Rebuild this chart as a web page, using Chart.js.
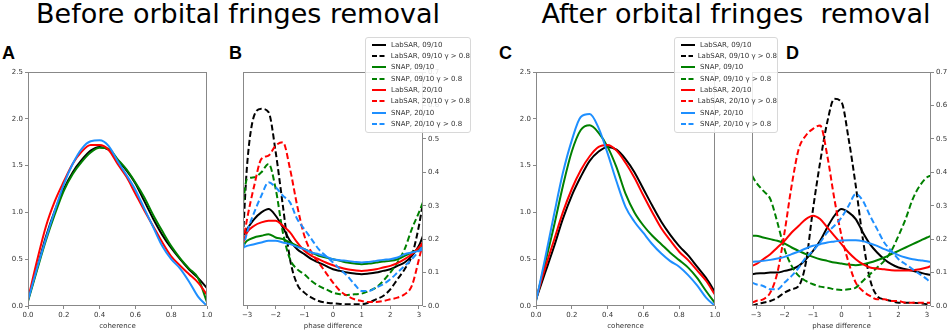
<!DOCTYPE html>
<html>
<head>
<meta charset="utf-8">
<script src="https://cdn.jsdelivr.net/npm/chart.js@4.4.0/dist/chart.umd.min.js"></script>
<style>
  body { margin:0; background:#fff; width:948px; height:330px; overflow:hidden; position:relative; font-family:"DejaVu Sans", sans-serif; }
  canvas { position:absolute; }
  .titulo { position:absolute; top:0; font-size:27px; line-height:27px; white-space:pre; color:#000; transform:translateX(-50%); }
  .letra { position:absolute; top:44px; font-family:"Liberation Sans", Arial, sans-serif; font-weight:bold; font-size:18px; line-height:18px; }
  .leyenda { position:absolute; background:rgba(255,255,255,0.85); border:1px solid #d8d8d8; border-radius:3px; font-size:7px; color:#333; box-sizing:border-box; padding:1px 0 0 6px; }
  .leyenda div { height:11.33px; display:flex; align-items:center; white-space:nowrap; }
  .leyenda svg { margin-right:5px; }
</style>
</head>
<body>
<div class="titulo" style="left:238px">Before orbital fringes removal</div>
<div class="titulo" style="left:736px">After orbital fringes  removal</div>
<div class="letra" style="left:2px">A</div>
<div class="letra" style="left:229px">B</div>
<div class="letra" style="left:499px">C</div>
<div class="letra" style="left:786px">D</div>

<canvas id="chartA" width="215" height="268" style="left:0px;top:62px"></canvas>
<canvas id="chartB" width="214" height="268" style="left:232px;top:62px"></canvas>
<canvas id="chartC" width="218" height="268" style="left:505px;top:62px"></canvas>
<canvas id="chartD" width="208" height="268" style="left:740px;top:62px"></canvas>

<div class="leyenda" id="leyendaB" style="left:365px;top:37px;width:106px;height:96px"></div>
<div class="leyenda" id="leyendaD" style="left:674px;top:37px;width:104px;height:96px"></div>

<script>
// ejes
const COHERENCE = [0, 0.05, 0.1, 0.15, 0.2, 0.25, 0.3, 0.35, 0.4, 0.45, 0.5, 0.55, 0.6, 0.65, 0.7, 0.75, 0.8, 0.85, 0.9, 0.95, 1];
const PHASE = [-3.14, -3, -2.75, -2.5, -2.25, -2, -1.75, -1.5, -1.25, -1, -0.75, -0.5, -0.25, 0, 0.25, 0.5, 0.75, 1, 1.25, 1.5, 1.75, 2, 2.25, 2.5, 2.75, 3, 3.14];
const COH_TICKS = [0, 0.2, 0.4, 0.6, 0.8, 1.0];
const PHASE_TICKS = [-3, -2, -1, 0, 1, 2, 3];
const DENS_TICKS_AC = [0, 0.5, 1.0, 1.5, 2.0, 2.5];
const DENS_TICKS_BD = [0, 0.1, 0.2, 0.3, 0.4, 0.5, 0.6, 0.7];
const LABELS = ['LabSAR, 09/10', 'LabSAR, 09/10 \u03b3 > 0.8', 'SNAP, 09/10', 'SNAP, 09/10 \u03b3 > 0.8',
                'LabSAR, 20/10', 'LabSAR, 20/10 \u03b3 > 0.8', 'SNAP, 20/10', 'SNAP, 20/10 \u03b3 > 0.8'];

// A: coherencia antes
const A_LAB_0910  = [0.07, 0.40, 0.74, 1.02, 1.25, 1.43, 1.56, 1.66, 1.70, 1.67, 1.56, 1.45, 1.31, 1.12, 0.93, 0.76, 0.62, 0.50, 0.39, 0.30, 0.19];
const A_SNAP_0910 = [0.05, 0.38, 0.70, 0.98, 1.23, 1.41, 1.54, 1.64, 1.69, 1.68, 1.57, 1.46, 1.32, 1.16, 0.97, 0.80, 0.64, 0.51, 0.40, 0.30, 0.04];
const A_LAB_2010  = [0.07, 0.48, 0.85, 1.12, 1.33, 1.52, 1.65, 1.72, 1.72, 1.67, 1.52, 1.38, 1.20, 1.02, 0.85, 0.68, 0.53, 0.43, 0.34, 0.25, 0.12];
const A_SNAP_2010 = [0.06, 0.40, 0.72, 1.02, 1.30, 1.52, 1.68, 1.76, 1.77, 1.71, 1.55, 1.40, 1.24, 1.04, 0.84, 0.64, 0.50, 0.40, 0.26, 0.10, 0.00];

// B: fase antes
const B_LAB_0910     = [0.21, 0.23, 0.26, 0.28, 0.29, 0.27, 0.235, 0.195, 0.17, 0.155, 0.14, 0.13, 0.12, 0.11, 0.105, 0.10, 0.097, 0.095, 0.097, 0.10, 0.105, 0.11, 0.12, 0.13, 0.15, 0.18, 0.21];
const B_LAB_0910_HI  = [0.21, 0.42, 0.57, 0.59, 0.58, 0.46, 0.30, 0.14, 0.065, 0.04, 0.025, 0.015, 0.01, 0.008, 0.006, 0.005, 0.005, 0.005, 0.01, 0.02, 0.03, 0.05, 0.08, 0.11, 0.15, 0.24, 0.31];
const B_SNAP_0910    = [0.18, 0.195, 0.205, 0.21, 0.215, 0.205, 0.20, 0.19, 0.18, 0.17, 0.16, 0.15, 0.145, 0.14, 0.135, 0.13, 0.127, 0.125, 0.127, 0.13, 0.133, 0.135, 0.14, 0.15, 0.16, 0.17, 0.18];
const B_SNAP_0910_HI = [0.31, 0.38, 0.385, 0.40, 0.425, 0.35, 0.22, 0.14, 0.11, 0.095, 0.075, 0.06, 0.05, 0.04, 0.035, 0.033, 0.035, 0.037, 0.045, 0.055, 0.075, 0.10, 0.13, 0.17, 0.23, 0.28, 0.31];
const B_LAB_2010     = [0.19, 0.22, 0.24, 0.25, 0.255, 0.255, 0.24, 0.22, 0.19, 0.165, 0.15, 0.14, 0.13, 0.122, 0.115, 0.11, 0.107, 0.105, 0.107, 0.11, 0.115, 0.12, 0.128, 0.14, 0.155, 0.175, 0.19];
const B_LAB_2010_HI  = [0.19, 0.26, 0.36, 0.44, 0.45, 0.48, 0.49, 0.41, 0.30, 0.21, 0.16, 0.13, 0.10, 0.07, 0.045, 0.03, 0.02, 0.015, 0.012, 0.012, 0.015, 0.02, 0.025, 0.035, 0.06, 0.14, 0.19];
const B_SNAP_2010    = [0.175, 0.18, 0.185, 0.19, 0.195, 0.195, 0.19, 0.185, 0.177, 0.17, 0.16, 0.155, 0.148, 0.14, 0.137, 0.135, 0.132, 0.13, 0.132, 0.135, 0.138, 0.14, 0.145, 0.155, 0.16, 0.165, 0.17];
const B_SNAP_2010_HI = [0.17, 0.22, 0.28, 0.33, 0.37, 0.355, 0.33, 0.31, 0.26, 0.23, 0.20, 0.17, 0.15, 0.13, 0.11, 0.09, 0.065, 0.045, 0.045, 0.055, 0.065, 0.08, 0.10, 0.12, 0.14, 0.165, 0.18];

// C: coherencia despues
const C_LAB_0910  = [0.07, 0.35, 0.63, 0.93, 1.18, 1.38, 1.55, 1.65, 1.70, 1.67, 1.57, 1.43, 1.25, 1.07, 0.90, 0.76, 0.64, 0.54, 0.42, 0.30, 0.15];
const C_SNAP_0910 = [0.06, 0.45, 0.85, 1.28, 1.65, 1.88, 1.93, 1.85, 1.70, 1.48, 1.20, 1.00, 0.86, 0.75, 0.66, 0.57, 0.49, 0.41, 0.30, 0.16, 0.03];
const C_LAB_2010  = [0.07, 0.40, 0.70, 1.00, 1.25, 1.45, 1.60, 1.70, 1.72, 1.66, 1.53, 1.37, 1.18, 1.00, 0.83, 0.70, 0.58, 0.49, 0.38, 0.27, 0.12];
const C_SNAP_2010 = [0.05, 0.50, 0.97, 1.42, 1.77, 2.02, 2.05, 1.90, 1.63, 1.33, 1.06, 0.90, 0.78, 0.66, 0.56, 0.48, 0.42, 0.33, 0.22, 0.09, 0.00];

// D: fase despues
const D_LAB_0910     = [0.095, 0.097, 0.098, 0.10, 0.10, 0.105, 0.11, 0.12, 0.14, 0.165, 0.195, 0.235, 0.27, 0.29, 0.28, 0.26, 0.22, 0.185, 0.16, 0.14, 0.125, 0.115, 0.11, 0.105, 0.10, 0.095, 0.093];
const D_LAB_0910_HI  = [0.0, 0.005, 0.01, 0.015, 0.025, 0.04, 0.05, 0.06, 0.13, 0.29, 0.43, 0.55, 0.62, 0.61, 0.50, 0.36, 0.20, 0.08, 0.03, 0.02, 0.015, 0.01, 0.01, 0.01, 0.008, 0.005, 0.0];
const D_SNAP_0910    = [0.21, 0.21, 0.205, 0.20, 0.195, 0.187, 0.175, 0.165, 0.155, 0.147, 0.14, 0.135, 0.13, 0.127, 0.124, 0.122, 0.125, 0.13, 0.137, 0.145, 0.155, 0.165, 0.175, 0.185, 0.195, 0.205, 0.21];
const D_SNAP_0910_HI = [0.39, 0.37, 0.345, 0.32, 0.25, 0.17, 0.12, 0.09, 0.075, 0.065, 0.058, 0.055, 0.05, 0.048, 0.05, 0.055, 0.075, 0.095, 0.115, 0.135, 0.165, 0.21, 0.26, 0.32, 0.36, 0.385, 0.39];
const D_LAB_2010     = [0.12, 0.125, 0.14, 0.155, 0.175, 0.195, 0.22, 0.24, 0.26, 0.27, 0.26, 0.235, 0.21, 0.185, 0.16, 0.14, 0.125, 0.115, 0.112, 0.11, 0.107, 0.106, 0.106, 0.107, 0.11, 0.115, 0.12];
const D_LAB_2010_HI  = [0.01, 0.015, 0.02, 0.04, 0.10, 0.22, 0.36, 0.47, 0.51, 0.53, 0.54, 0.45, 0.32, 0.21, 0.13, 0.07, 0.045, 0.03, 0.02, 0.02, 0.015, 0.015, 0.01, 0.01, 0.01, 0.01, 0.01];
const D_SNAP_2010    = [0.132, 0.133, 0.135, 0.138, 0.142, 0.147, 0.155, 0.163, 0.172, 0.18, 0.185, 0.19, 0.193, 0.196, 0.197, 0.197, 0.194, 0.187, 0.18, 0.17, 0.162, 0.152, 0.145, 0.14, 0.137, 0.134, 0.132];
const D_SNAP_2010_HI = [0.07, 0.065, 0.06, 0.05, 0.05, 0.07, 0.09, 0.115, 0.145, 0.165, 0.19, 0.22, 0.24, 0.265, 0.30, 0.335, 0.315, 0.27, 0.23, 0.19, 0.165, 0.14, 0.125, 0.11, 0.095, 0.08, 0.068];

const COLORES = ['#000000', '#008000', '#ff0000', '#1e8fff'];
const FUENTE = { size: 7, family: 'DejaVu Sans' };

// marco gris alrededor del area de datos
const marco = {
  id: 'marco',
  afterDraw(chart) {
    const a = chart.chartArea, ctx = chart.ctx;
    ctx.save();
    ctx.strokeStyle = '#888';
    ctx.lineWidth = 1;
    ctx.strokeRect(Math.round(a.left) + 0.5, Math.round(a.top) + 0.5, Math.round(a.right - a.left) - 1, Math.round(a.bottom - a.top) - 1);
    ctx.restore();
  }
};

function eje(pos, min, max, ticks, fmt, size, titulo) {
  return {
    type: 'linear', position: pos, min: min, max: max,
    afterBuildTicks: s => { s.ticks = ticks.map(v => ({ value: v })); },
    afterFit: s => { if (pos === 'bottom') s.height = size; else s.width = size; },
    ticks: { color: '#333', font: FUENTE, padding: 2, maxRotation: 0, autoSkip: false, callback: v => fmt(v) },
    grid: { drawOnChartArea: false, tickLength: 3, color: '#888' },
    border: { display: false },
    title: titulo ? { display: true, text: titulo, color: '#333', font: FUENTE, padding: { top: 0, bottom: 0 } } : { display: false }
  };
}

const dec = v => v.toFixed(1);
const ent = v => (v < 0 ? '\u2212' : '') + Math.abs(v);

function grafico(id, xs, series, discontinuas, xEje, yEje, padding) {
  const datasets = [];
  series.forEach((ys, i) => {
    const color = discontinuas ? COLORES[Math.floor(i / 2)] : COLORES[i];
    const dash = discontinuas && i % 2 === 1;
    datasets.push({
      label: discontinuas ? LABELS[i] : LABELS[i * 2],
      data: ys.map((y, k) => ({ x: xs[k], y: y })),
      borderColor: color,
      borderWidth: 2,
      borderDash: dash ? [6, 3] : [],
      pointRadius: 0,
      cubicInterpolationMode: 'monotone',
      order: 20 - i
    });
  });
  new Chart(document.getElementById(id), {
    type: 'line',
    data: { datasets: datasets },
    options: {
      responsive: false,
      animation: false,
      layout: { padding: padding },
      plugins: { legend: { display: false }, tooltip: { enabled: false } },
      scales: { x: xEje, y: yEje }
    },
    plugins: [marco]
  });
}

grafico('chartA', COHERENCE, [A_LAB_0910, A_SNAP_0910, A_LAB_2010, A_SNAP_2010], false,
  eje('bottom', 0, 1, COH_TICKS, dec, 24, 'coherence'),
  eje('left', 0, 2.5, DENS_TICKS_AC, dec, 28),
  { top: 10, right: 8, left: 0, bottom: 0 });

grafico('chartB', PHASE, [B_LAB_0910, B_LAB_0910_HI, B_SNAP_0910, B_SNAP_0910_HI, B_LAB_2010, B_LAB_2010_HI, B_SNAP_2010, B_SNAP_2010_HI], true,
  eje('bottom', -Math.PI, Math.PI, PHASE_TICKS, ent, 24, 'phase difference'),
  eje('right', 0, 0.7, DENS_TICKS_BD, dec, 23),
  { top: 10, right: 0, left: 11, bottom: 0 });

grafico('chartC', COHERENCE, [C_LAB_0910, C_SNAP_0910, C_LAB_2010, C_SNAP_2010], false,
  eje('bottom', 0, 1, COH_TICKS, dec, 24, 'coherence'),
  eje('left', 0, 2.5, DENS_TICKS_AC, dec, 31),
  { top: 10, right: 8, left: 0, bottom: 0 });

grafico('chartD', PHASE, [D_LAB_0910, D_LAB_0910_HI, D_SNAP_0910, D_SNAP_0910_HI, D_LAB_2010, D_LAB_2010_HI, D_SNAP_2010, D_SNAP_2010_HI], true,
  eje('bottom', -Math.PI, Math.PI, PHASE_TICKS, ent, 24, 'phase difference'),
  eje('right', 0, 0.7, DENS_TICKS_BD, dec, 17),
  { top: 10, right: 0, left: 12, bottom: 0 });

// leyendas
function leyenda(id) {
  const caja = document.getElementById(id);
  LABELS.forEach((txt, i) => {
    const color = COLORES[Math.floor(i / 2)];
    const dash = i % 2 === 1 ? ' stroke-dasharray="5,2.5"' : '';
    const fila = document.createElement('div');
    fila.innerHTML = '<svg width="14" height="4"><line x1="0" y1="2" x2="14" y2="2" stroke="' + color + '" stroke-width="2"' + dash + '/></svg><span>' + txt + '</span>';
    caja.appendChild(fila);
  });
}
leyenda('leyendaB');
leyenda('leyendaD');
</script>
</body>
</html>
